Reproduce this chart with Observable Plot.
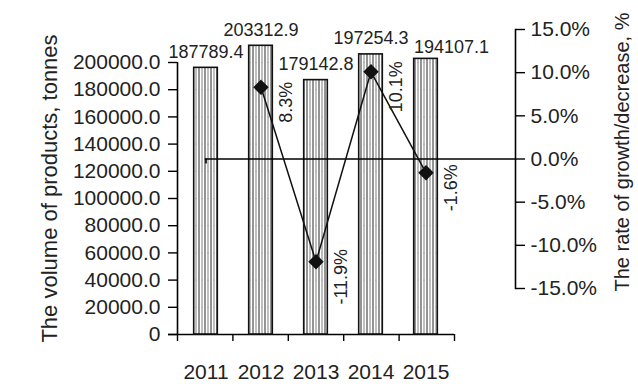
<!DOCTYPE html>
<html>
<head>
<meta charset="utf-8">
<script src="https://cdn.jsdelivr.net/npm/d3@7"></script>
<script src="https://cdn.jsdelivr.net/npm/@observablehq/plot@0.6"></script>
<style>
  html, body { margin: 0; padding: 0; background: white; }
  #chart { position: relative; width: 638px; height: 388px; overflow: hidden; }
</style>
</head>
<body>
<div id="chart"></div>
<script>
// ---- Data ----
const years = ["2011", "2012", "2013", "2014", "2015"];
const volume = [187789.4, 203312.9, 179142.8, 197254.3, 194107.1];
const rateYears = ["2012", "2013", "2014", "2015"];
const rate = [8.3, -11.9, 10.1, -1.6];
const leftTicks = [0, 20000, 40000, 60000, 80000, 100000, 120000, 140000, 160000, 180000, 200000];
const rightTicks = [-15, -10, -5, 0, 5, 10, 15];
const leftLabel = "The volume of products, tonnes";
const rightLabel = "The rate of growth/decrease, %";

const barData = years.map((year, i) => ({year, volume: volume[i]}));
const rateData = rateYears.map((year, i) => ({year, rate: rate[i]}));

// ---- Layout ----
const W = 638, H = 388;
const X0 = 177, X1 = 454, BOTTOM = 54;
const FONT = "'Liberation Sans', Arial, Helvetica, sans-serif";
const svgStyle = `position:absolute;left:0;top:0;background:transparent;overflow:visible;font-family:${FONT};color:black;`;
const band = (X1 - X0) / years.length;
const barWidth = 24;
const barInset = (band - barWidth) / 2;

const chart = document.getElementById("chart");

// Left axis + category boundary ticks
const axesPlot = Plot.plot({
  width: W, height: H,
  marginLeft: X0, marginRight: W - X1, marginTop: 62, marginBottom: BOTTOM,
  style: svgStyle,
  x: {type: "linear", domain: [0, years.length], axis: null},
  y: {domain: [0, 200000], axis: null},
  marks: [
    Plot.axisY({ticks: leftTicks, tickFormat: d => d === 0 ? "0" : d.toFixed(1), tickSize: 9, tickPadding: 8, fontSize: 21, strokeWidth: 1.4, label: null, fill: "#222"}),
    Plot.axisX({ticks: d3.range(years.length + 1), tickSize: 7, tickFormat: () => "", strokeWidth: 1.4, label: null}),
    Plot.ruleX([0], {strokeWidth: 1.6}),
    Plot.ruleY([0], {strokeWidth: 1.6, insetLeft: -9}),
    Plot.text([leftLabel], {frameAnchor: "left", textAnchor: "middle", rotate: -90, dx: -128, dy: -10, fontSize: 22, fill: "#222"})
  ]
});
chart.appendChild(axesPlot);

// Bars
const gridStep = axesPlot.scale("y").apply(0) - axesPlot.scale("y").apply(20000);
const gridOrigin = axesPlot.scale("y").apply(0);
const lastYear = years[years.length - 1];
const barPlot = Plot.plot({
  width: W, height: H,
  marginLeft: X0, marginRight: W - X1, marginTop: 50, marginBottom: BOTTOM,
  style: svgStyle,
  x: {type: "band", domain: years, padding: 0, axis: null},
  y: {domain: [0, 200000], axis: null},
  marks: [
    Plot.barY(barData, {x: "year", y: "volume", fill: "url(#hatch)", stroke: "#111", strokeWidth: 1.6, insetLeft: barInset, insetRight: barInset}),
    Plot.text(barData.filter(d => d.year !== lastYear), {x: "year", y: "volume", text: d => d.volume.toFixed(1), lineAnchor: "bottom", dy: -10, fontSize: 18, fill: "#222"}),
    Plot.text(barData.filter(d => d.year === lastYear), {x: "year", y: "volume", text: d => d.volume.toFixed(1), textAnchor: "start", lineAnchor: "bottom", dx: -barWidth / 2, dy: -6, fontSize: 18, fill: "#222"}),
    Plot.axisX({tickSize: 0, tickPadding: 30, fontSize: 21, label: null, fill: "#222"})
  ]
});
d3.select(barPlot).insert("defs", ":first-child").html(`
  <pattern id="hatch" patternUnits="userSpaceOnUse" x="0" y="${gridOrigin}" width="6" height="${gridStep}">
    <rect width="6" height="${gridStep}" fill="white"/>
    <line x1="1" x2="1" y1="0" y2="${gridStep}" stroke="#2a2a2a" stroke-width="1"/>
    <line x1="4" x2="4" y1="0" y2="${gridStep}" stroke="#808080" stroke-width="1"/>
    <line x1="0" x2="6" y1="0.3" y2="0.3" stroke="#999" stroke-width="0.6" stroke-dasharray="2,1"/>
  </pattern>`);
chart.appendChild(barPlot);

// Growth rate line + right axis
const ratePlot = Plot.plot({
  width: W, height: H,
  marginLeft: X0, marginRight: 123, marginTop: 29, marginBottom: 100,
  style: svgStyle,
  x: {type: "band", domain: years, range: [X0, X1], padding: 0, axis: null},
  y: {domain: [-15, 15], axis: null},
  marks: [
    Plot.ruleY([0], {strokeWidth: 1.6, insetLeft: band / 2}),
    Plot.ruleX([years[0]], {y1: 0, y2: 0, insetBottom: -5, strokeWidth: 1.6}),
    Plot.frame({anchor: "right", strokeWidth: 1.6}),
    Plot.axisY({anchor: "right", ticks: rightTicks, tickFormat: d => d.toFixed(1) + "%", tickSize: 9, tickPadding: 6, fontSize: 21, strokeWidth: 1.4, label: null, fill: "#222"}),
    Plot.line(rateData, {x: "year", y: "rate", stroke: "#111", strokeWidth: 1.5}),
    Plot.dot(rateData, {x: "year", y: "rate", symbol: "diamond2", r: 6, fill: "#111", stroke: "#111"}),
    Plot.text(rateData, {x: "year", y: "rate", text: d => d.rate.toFixed(1) + "%", rotate: -90, dx: 25, dy: 15, fontSize: 18, fill: "#222"}),
    Plot.text([rightLabel], {frameAnchor: "right", textAnchor: "middle", rotate: -90, dx: 107, dy: -7, fontSize: 20, fill: "#222"})
  ]
});
chart.appendChild(ratePlot);
</script>
</body>
</html>
